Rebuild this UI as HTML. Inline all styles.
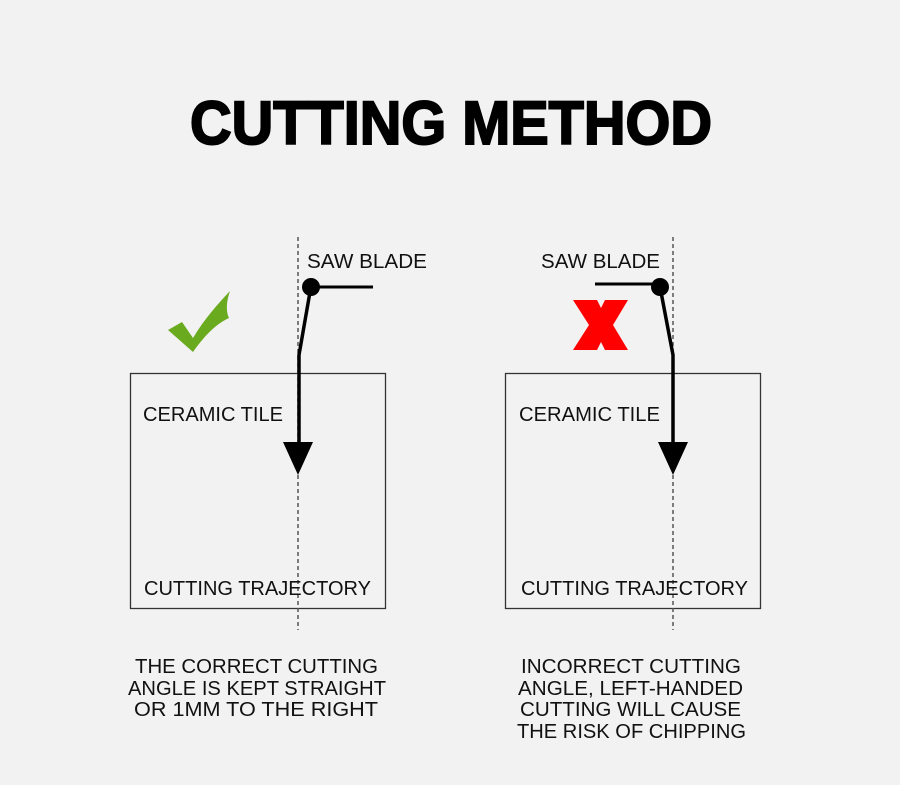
<!DOCTYPE html>
<html><head><meta charset="utf-8"><style>
html,body{margin:0;padding:0;background:#f2f2f2;}
svg{display:block}
text{font-family:"Liberation Sans",sans-serif;fill:#111;}
</style></head><body>
<svg width="900" height="785" viewBox="0 0 900 785" xmlns="http://www.w3.org/2000/svg">
<rect width="900" height="785" fill="#f2f2f2"/>
<text x="190" y="144" font-size="61" font-weight="bold" textLength="522" lengthAdjust="spacingAndGlyphs" style="fill:#000;stroke:#000;stroke-width:2">CUTTING METHOD</text>

<!-- left -->
<rect x="130.5" y="373.5" width="255" height="235" fill="none" stroke="#333" stroke-width="1.3"/>
<line x1="298" y1="237" x2="298" y2="630" stroke="#555" stroke-width="1.5" stroke-dasharray="4,3"/>
<line x1="311" y1="287" x2="373" y2="287" stroke="#000" stroke-width="3"/>
<circle cx="311" cy="287" r="9" fill="#000"/>
<polyline points="310,292 299,355 299,445" fill="none" stroke="#000" stroke-width="3.5"/>
<polygon points="283,442 313,442 298,475" fill="#000"/>
<path d="M168,330 L182,322 L193,338 C205,318 218,304 230,291 C226,302 226,312 229,318 C214,325 203,338 193,352 Z" fill="#6aaa1e"/>

<!-- right -->
<rect x="505.5" y="373.5" width="255" height="235" fill="none" stroke="#333" stroke-width="1.3"/>
<line x1="673" y1="237" x2="673" y2="630" stroke="#555" stroke-width="1.5" stroke-dasharray="4,3"/>
<line x1="595" y1="284" x2="660" y2="284" stroke="#000" stroke-width="3"/>
<circle cx="660" cy="287" r="9" fill="#000"/>
<polyline points="661,292 673,355 673,445" fill="none" stroke="#000" stroke-width="3.5"/>
<polygon points="658,442 688,442 673,475" fill="#000"/>
<path d="M573,300 L597,300 L601,308 L605,300 L628,300 L613,325 L628,350 L605,350 L601,342 L597,350 L573,350 L589,325 Z" fill="#f00"/>

<g font-size="20">
<text x="307" y="268" textLength="120" lengthAdjust="spacingAndGlyphs">SAW BLADE</text>
<text x="541" y="268" textLength="119" lengthAdjust="spacingAndGlyphs">SAW BLADE</text>
<text x="143" y="421" textLength="140" lengthAdjust="spacingAndGlyphs">CERAMIC TILE</text>
<text x="519" y="421" textLength="141" lengthAdjust="spacingAndGlyphs">CERAMIC TILE</text>
<text x="144" y="595" textLength="227" lengthAdjust="spacingAndGlyphs">CUTTING TRAJECTORY</text>
<text x="521" y="595" textLength="227" lengthAdjust="spacingAndGlyphs">CUTTING TRAJECTORY</text>

<text x="135" y="673" textLength="243" lengthAdjust="spacingAndGlyphs">THE CORRECT CUTTING</text>
<text x="128" y="695" textLength="258" lengthAdjust="spacingAndGlyphs">ANGLE IS KEPT STRAIGHT</text>
<text x="134" y="716" textLength="244" lengthAdjust="spacingAndGlyphs">OR 1MM TO THE RIGHT</text>

<text x="521" y="673" textLength="220" lengthAdjust="spacingAndGlyphs">INCORRECT CUTTING</text>
<text x="518" y="695" textLength="225" lengthAdjust="spacingAndGlyphs">ANGLE, LEFT-HANDED</text>
<text x="520" y="716" textLength="221" lengthAdjust="spacingAndGlyphs">CUTTING WILL CAUSE</text>
<text x="517" y="738" textLength="229" lengthAdjust="spacingAndGlyphs">THE RISK OF CHIPPING</text>
</g>
</svg>
</body></html>
